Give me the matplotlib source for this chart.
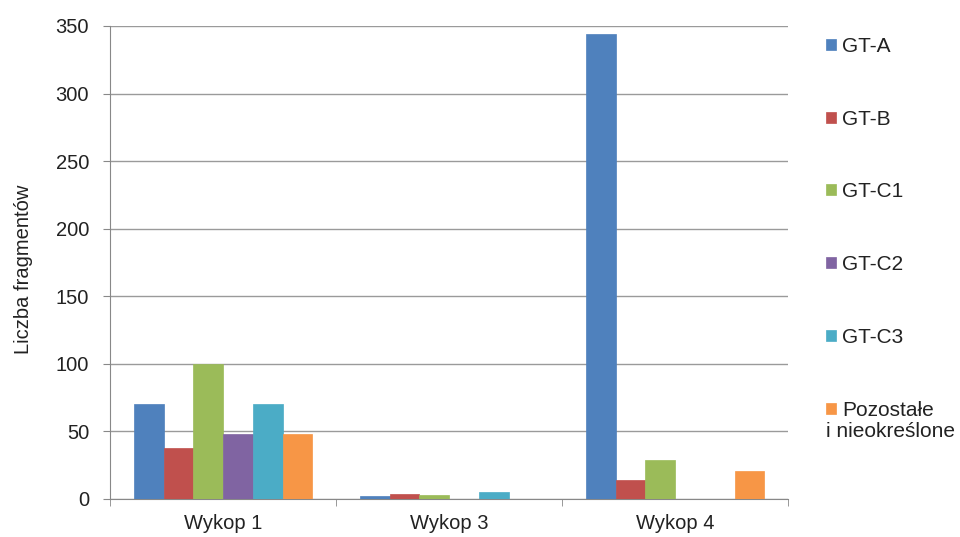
import matplotlib.pyplot as plt
import numpy as np

categories = ["Wykop 1", "Wykop 3", "Wykop 4"]
series = ["GT-A", "GT-B", "GT-C1", "GT-C2", "GT-C3", "Pozostałe"]
last_label_line2 = "i nieokreślone"
values = {
    "GT-A": [70, 2, 344],
    "GT-B": [38, 4, 14],
    "GT-C1": [100, 3, 29],
    "GT-C2": [48, 0, 0],
    "GT-C3": [70, 5, 0],
    "Pozostałe": [48, 0, 21],
}
colors = ["#4F81BD", "#C0504D", "#9BBB59", "#8064A2", "#4BACC6", "#F79646"]

plt.rcParams["font.family"] = ["Liberation Sans", "DejaVu Sans"]
FS = 14.5

fig = plt.figure(figsize=(9.6, 5.37), dpi=100)
ax = fig.add_axes([0.1146, 0.0708, 0.7064, 0.8808])

x = np.arange(len(categories))
group_w = 0.79
bar_w = group_w / len(series)
for i, (name, col) in enumerate(zip(series, colors)):
    offs = -group_w / 2 + bar_w * (i + 0.5)
    ax.bar(x + offs, values[name], bar_w, color=col, edgecolor=col,
           linewidth=0.5, label=name, zorder=3)

ax.set_xlim(-0.5, len(categories) - 0.5)
ax.set_ylim(0, 350)
ax.set_yticks(range(0, 351, 50))
ax.set_xticks(x)
ax.set_xticklabels(categories)
ax.set_xticks(np.arange(-0.5, len(categories)), minor=True)
ax.tick_params(axis="x", which="major", length=0, pad=11)
ax.tick_params(axis="x", which="minor", length=5, color="#888888")
ax.tick_params(axis="y", length=5, color="#888888", pad=10)
ax.tick_params(labelsize=FS, labelcolor="#222222")
ax.grid(axis="y", color="#9a9a9a", linewidth=1, zorder=0)
for s in ["top", "right"]:
    ax.spines[s].set_visible(False)
ax.spines["left"].set_color("#888888")
ax.spines["bottom"].set_color("#888888")
ax.set_ylabel("Liczba fragmentów", fontsize=FS, color="#222222")
ax.yaxis.set_label_coords(-0.113, 0.485)

leg = fig.legend(loc="upper left", bbox_to_anchor=(0.852, 0.947), frameon=False,
                 fontsize=15, labelspacing=2.58, handlelength=0.45,
                 handleheight=0.45, handletextpad=0.3, borderaxespad=0)
for t in leg.get_texts():
    t.set_color("#222222")

# second line of the last legend entry starts under the colour square
fig.canvas.draw()
inv = fig.transFigure.inverted()
patch_bb = leg.get_patches()[-1].get_window_extent()
text_bb = leg.get_texts()[-1].get_window_extent()
x0, y0 = inv.transform((patch_bb.x0, text_bb.y0))
fig.text(x0, y0 - 0.004, last_label_line2, fontsize=15, color="#222222",
         ha="left", va="top")

fig.savefig("out.png", dpi=100)
